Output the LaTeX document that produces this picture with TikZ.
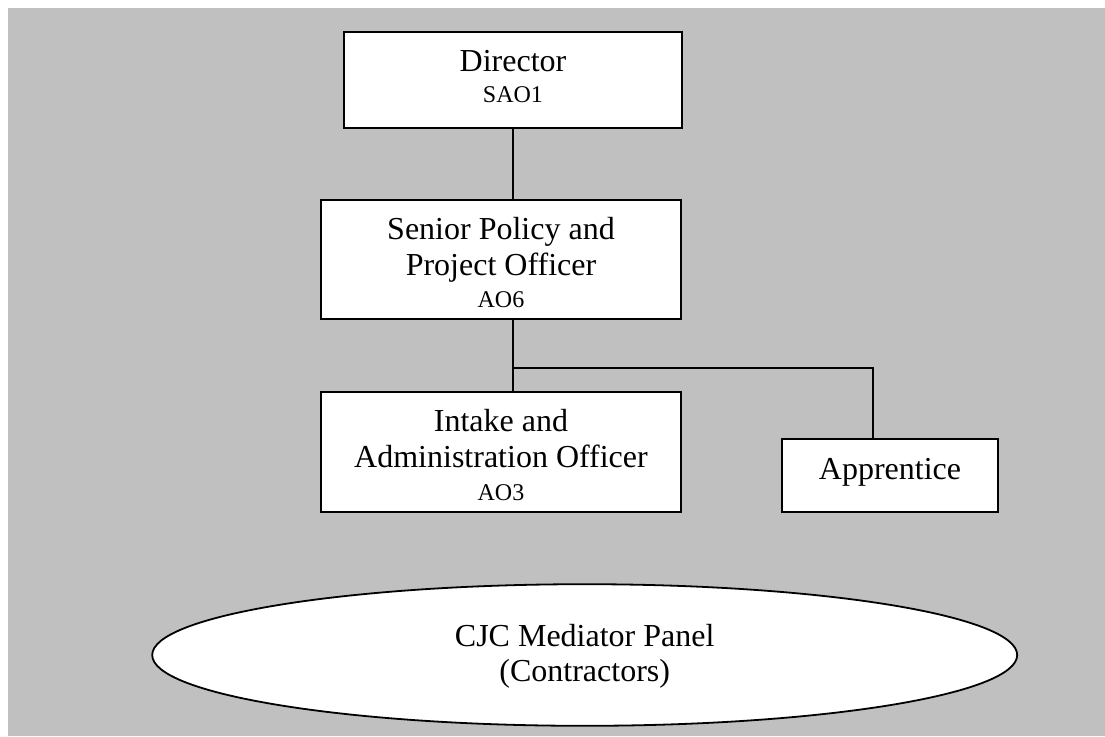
\documentclass[tikz,border=0pt]{standalone}
\usepackage{fontspec}
\setmainfont{Liberation Serif}
\usetikzlibrary{shapes.geometric}
\definecolor{bggray}{RGB}{192,192,192}
\newcommand{\bigf}{\fontsize{16}{18.25}\selectfont}
\newcommand{\smallf}{\fontsize{12}{14}\selectfont}
\begin{document}
\begin{tikzpicture}[x=0.5pt,y=-0.5pt,
  orgbox/.style={draw=black, line width=0.9pt, fill=white, rectangle, align=center,
    font=\bigf, inner sep=0pt, text=black},
  conn/.style={draw=black, line width=0.8pt}]
\useasboundingbox (0,0) rectangle (1105,736);
\fill[bggray] (8,8) rectangle (1105,736);

\node[orgbox, minimum width=169pt, minimum height=48pt] (dir) at (513,80)
  {Director\\[-2.45pt]{\smallf SAO1\rule[-3.5pt]{0pt}{3.5pt}}};
\node[orgbox, minimum width=180pt, minimum height=59.5pt] (sppo) at (501,259.5)
  {\rule{0pt}{13.8pt}Senior Policy and\\Project Officer\\[-2.4pt]{\smallf AO6}};
\node[orgbox, minimum width=180pt, minimum height=60pt] (intake) at (501,452)
  {\rule{0pt}{13.8pt}Intake and\\Administration Officer\\[-2.1pt]{\smallf AO3}};
\node[orgbox, minimum width=108pt, minimum height=36.5pt] (appr) at (890,475.7)
  {Apprentice\rule[-6.5pt]{0pt}{6.5pt}};
\node[ellipse, draw=black, line width=0.9pt, fill=white, align=center, font=\bigf,
  inner sep=0pt, minimum width=432.5pt, minimum height=70.8pt] (panel) at (584.7,655)
  {\rule{0pt}{12.3pt}CJC Mediator Panel\\[-0.6pt](Contractors)};

\coordinate (j) at (513,368);
\coordinate (ja) at (873,368);
\draw[conn] (dir.south) -- (dir.south |- sppo.north);
\draw[conn] (j |- sppo.south) -- (j |- intake.north);
\draw[conn] (j) -- (ja) -- (ja |- appr.north);
\end{tikzpicture}
\end{document}
